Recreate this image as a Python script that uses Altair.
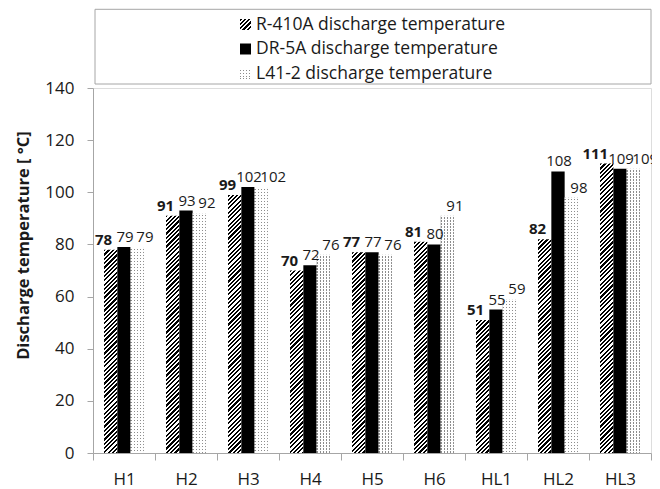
import altair as alt
import pandas as pd

categories = ["H1", "H2", "H3", "H4", "H5", "H6", "HL1", "HL2", "HL3"]
series = ["R-410A discharge temperature", "DR-5A discharge temperature", "L41-2 discharge temperature"]
r410a_values = [78, 91, 99, 70, 77, 81, 51, 82, 111]
dr5a_values = [79, 93, 102, 72, 77, 80, 55, 108, 109]
l41_2_values = [79, 92, 102, 76, 76, 91, 59, 98, 109]
y_ticks = [0, 20, 40, 60, 80, 100, 120, 140]

rows = []
for si, vals in enumerate([r410a_values, dr5a_values, l41_2_values]):
    for c, v in zip(categories, vals):
        rows.append({"cat": c, "series": series[si], "sidx": si, "v": v})
df = pd.DataFrame(rows)

W, H = 558, 365
YMAX = 140
OUTER = 0.83
BW = (W / len(categories)) / (len(series) + 2 * OUTER)
L = 400.0
L2 = 300.0
PX = H / YMAX
GRAY = "#a6a6a6"
TXT = "#1a1a1a"
FONT = "Open Sans"


def stripe_stops(period, on_frac, on, off):
    stops = []
    a = 0.0
    while a < 1.0:
        b = min(a + on_frac * period, 1.0)
        c = min(a + period, 1.0)
        stops += [(a, on), (b, on), (b, off), (c, off)]
        a += period
    return stops


def js_stops(stops):
    return "[" + ",".join("{offset:%.5f,color:'%s'}" % (o, c) for o, c in stops) + "]"


def py_stops(stops):
    return [{"offset": round(o, 5), "color": c} for o, c in stops]


hatch_stops = stripe_stops(4.3 / L, 0.5, "#000000", "#ffffff")
vert_stops = stripe_stops(3.0 / BW, 0.4, "#8c8c8c", "#ffffff")
horiz_stops = stripe_stops(3.0 / L2, 0.5, "rgba(255,255,255,1)", "rgba(255,255,255,0)")

hexpr = "datum.v*" + repr(PX)
den = "(" + repr(BW * BW) + "+pow(" + hexpr + ",2))"
hatch_expr = ("{gradient:'linear',x1:0,y1:0,x2:" + repr(BW * L) + "/" + den +
              ",y2:" + hexpr + "*" + repr(L) + "/" + den +
              ",stops:" + js_stops(hatch_stops) + "}")
vert_expr = "{gradient:'linear',x1:0,y1:0,x2:1,y2:0,stops:" + js_stops(vert_stops) + "}"
fill_expr = "datum.sidx==0 ? " + hatch_expr + " : (datum.sidx==1 ? '#000000' : " + vert_expr + ")"
over_expr = ("{gradient:'linear',x1:0,y1:0,x2:0.000001,y2:" + repr(L2) + "/(" + hexpr +
             "),stops:" + js_stops(horiz_stops) + "}")

x_enc = alt.X("cat:N", sort=categories,
              scale=alt.Scale(paddingInner=0, paddingOuter=0),
              axis=alt.Axis(title=None, labelAngle=0, labelFont=FONT, labelFontSize=17,
                            labelColor=TXT, labelPadding=11, tickSize=7, tickBand="extent",
                            tickColor=GRAY, domainColor=GRAY, grid=False))
xo_enc = alt.XOffset("series:N", sort=series,
                     scale=alt.Scale(paddingInner=0, paddingOuter=OUTER))
y_enc = alt.Y("v:Q", scale=alt.Scale(domain=[0, YMAX], nice=False),
              axis=alt.Axis(values=y_ticks, title="Discharge temperature [ °C]",
                            labelFont=FONT, labelFontSize=17, labelColor=TXT,
                            labelPadding=13, tickSize=6, tickColor=GRAY,
                            domainColor=GRAY, grid=False,
                            titleFont=FONT, titleFontSize=16.5, titleFontWeight="bold",
                            titleColor=TXT, titleAngle=270, titleAlign="center",
                            titleBaseline="alphabetic", titleX=-65, titleY=157))

base = alt.Chart(df)

bars = base.transform_calculate(grad=fill_expr).mark_bar(aria=False, strokeWidth=0).encode(
    x=x_enc, xOffset=xo_enc, y=y_enc,
    fill=alt.Fill("grad:N", scale=None, legend=None))

overlay = base.transform_filter("datum.sidx==2").transform_calculate(grad=over_expr).mark_bar(
    aria=False, strokeWidth=0).encode(
    x=x_enc, xOffset=xo_enc, y=y_enc,
    fill=alt.Fill("grad:N", scale=None, legend=None))

lab_specs = [(0, "right", 1.5, "bold"), (1, "center", 1, "normal"), (2, "left", -1, "normal")]
labels = []
for si, align, dx, weight in lab_specs:
    labels.append(
        base.transform_filter("datum.sidx==%d" % si).mark_text(
            align=align, baseline="alphabetic", dx=dx, dy=-5, font=FONT, fontSize=15,
            fontWeight=weight, color=TXT, aria=False).encode(
            x=x_enc, xOffset=xo_enc, y=y_enc, text="v:Q"))

# legend (drawn above the plot area)
legend_layers = [
    alt.Chart(pd.DataFrame({"k": [0]})).mark_rect(fill="white", stroke=GRAY, strokeWidth=1).encode(
        x=alt.value(2), x2=alt.value(558), y=alt.value(-78.7), y2=alt.value(-4))
]
S = 11.0
sym_fills = [
    {"gradient": "linear", "x1": 0, "y1": 0, "x2": L / (2 * S), "y2": L / (2 * S),
     "stops": py_stops(hatch_stops)},
    "#000000",
    {"gradient": "linear", "x1": 0, "y1": 0, "x2": 1, "y2": 0,
     "stops": py_stops(stripe_stops(3.0 / S, 0.4, "#8c8c8c", "#ffffff"))},
]
sym_over = {"gradient": "linear", "x1": 0, "y1": 0, "x2": 0.000001, "y2": L2 / S,
            "stops": py_stops(horiz_stops)}
for i, s in enumerate(series):
    cy = -63.5 + 24.5 * i
    d = pd.DataFrame({"name": [s]})
    legend_layers.append(alt.Chart(d).mark_rect(strokeWidth=0).encode(
        x=alt.value(147), x2=alt.value(158), y=alt.value(cy - 5.5), y2=alt.value(cy + 5.5),
        fill=alt.value(sym_fills[i])))
    if i == 2:
        legend_layers.append(alt.Chart(d).mark_rect(strokeWidth=0).encode(
            x=alt.value(147), x2=alt.value(158), y=alt.value(cy - 5.5), y2=alt.value(cy + 5.5),
            fill=alt.value(sym_over)))
    legend_layers.append(alt.Chart(d).mark_text(
        align="left", baseline="middle", font=FONT, fontSize=17.5, color=TXT).encode(
        x=alt.value(163), y=alt.value(cy), text="name:N"))

chart = alt.layer(bars, overlay, *labels, *legend_layers).properties(
    width=W, height=H,
    padding={"left": 85, "top": 80, "right": 1, "bottom": 34},
    autosize=alt.AutoSizeParams(type="none"),
).configure_view(stroke=GRAY).configure(font=FONT)

chart.save("out.html", embed_options={"renderer": "svg", "actions": False})
